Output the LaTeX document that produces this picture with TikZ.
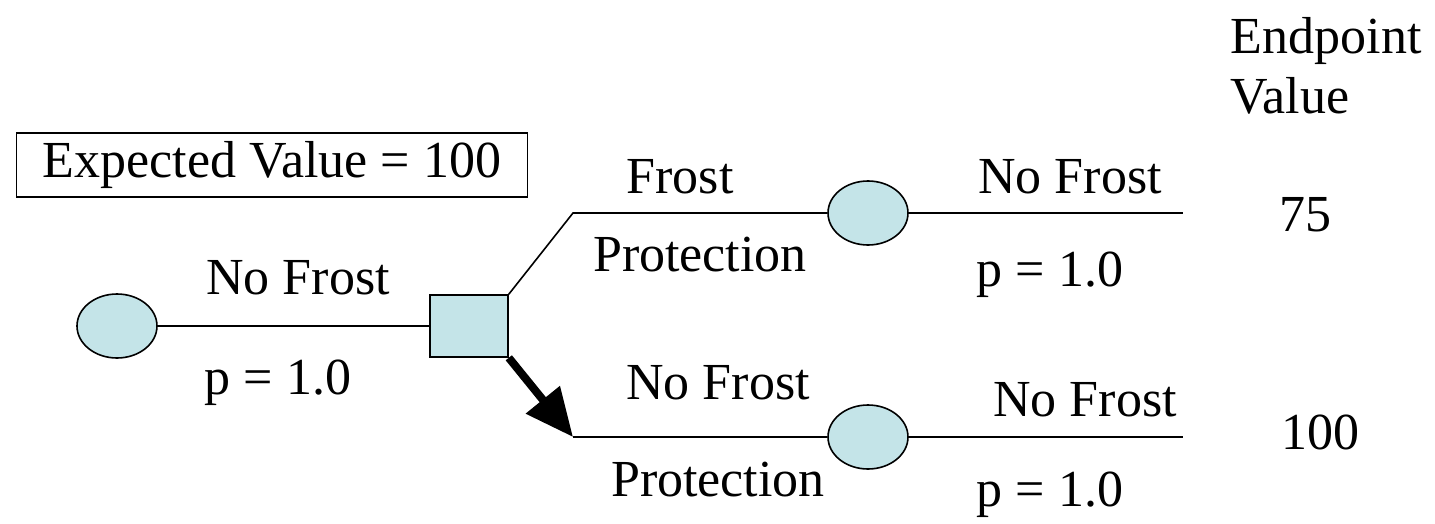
\documentclass[tikz,border=0pt]{standalone}
\usepackage{fontspec}
\setmainfont{Liberation Serif}
\usetikzlibrary{arrows.meta,positioning,shapes.geometric}
\definecolor{nodefill}{HTML}{C4E4E8}

\begin{document}
\begin{tikzpicture}[x=1pt, y=-1pt, line width=1.6pt,
    every node/.style={font=\fontsize{52}{60}\selectfont, inner sep=0pt},
    chance/.style={ellipse, draw, fill=nodefill, minimum width=80pt, minimum height=64pt},
    decision/.style={rectangle, draw, fill=nodefill, minimum width=78pt, minimum height=62pt},
    best/.style={line width=8pt, -{Triangle[length=48pt,width=42pt]}}]
                \useasboundingbox (0,0) rectangle (1435,524);

                % nodes of the tree
                \node[chance] (start) at (117,326) {};
                \node[decision] (choice) at (469,326) {};
                \node[chance] (protC) at (868,213) {};
                \node[chance] (noprotC) at (868,437) {};

                \coordinate (protK) at (573,213);
                \coordinate (noprotK) at (573,437);
                \coordinate (protE) at (1183,213);
                \coordinate (noprotE) at (1183,437);

                % branches
                \draw (start) -- (choice);
                \draw (choice.north east) -- (protK) -- (protC);
                \draw[best] (choice.south east) -- (noprotK);
                \draw (noprotK) -- (noprotC);
                \draw (protC) -- (protE);
                \draw (noprotC) -- (noprotE);

                % labels
                \node[draw, minimum width=511pt, minimum height=64pt] (ev) at (272,165) {Expected Value = 100};
                \node[anchor=west, align=left] (endhd) at (1230,66) {Endpoint\\Value};

                \node (startT) at (298,278) {No Frost};
                \node (startB) at (278,383) {p = 1.0};
                \node (protT) at (680,177) {Frost};
                \node (protB) at (700,255) {Protection};
                \node (noprotT) at (718,383) {No Frost};
                \node (noprotB) at (718,480) {Protection};
                \node (protCT) at (1070,177) {No Frost};
                \node (protCB) at (1050,275) {p = 1.0};
                \node (noprotCT) at (1085,400) {No Frost};
                \node (noprotCB) at (1050,495) {p = 1.0};
                \node (valA) at (1305,215) {75};
                \node (valB) at (1320,432) {100};
            \end{tikzpicture}
\end{document}
